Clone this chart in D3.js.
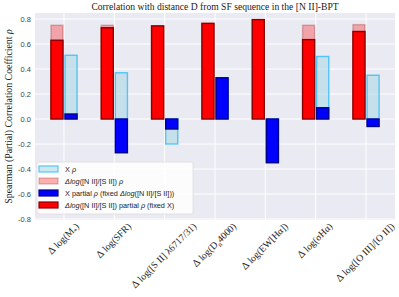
<!DOCTYPE html>
<html>
<head>
<meta charset="utf-8">
<script src="https://cdn.jsdelivr.net/npm/d3@7"></script>
<style>
  body { margin: 0; background: #fff; }
  svg { display: block; }
</style>
</head>
<body>
<div id="chart"></div>
<script>
// values
const categories = [
  ['M', '*'],
  ['SFR', null],
  ['[S II] λ6717/31', null],
  ['D', 'n', '4000'],
  ['EW[Hα]', null],
  ['σHα', null],
  ['[O III]/[O II]', null]
];
const xRho = [0.51, 0.37, -0.2, 0.32, -0.34, 0.5, 0.35];
const nsRho = [0.75, 0.75, 0.745, 0.765, 0.795, 0.75, 0.755];
const xPartial = [0.04, -0.27, -0.08, 0.33, -0.35, 0.09, -0.06];
const nsPartial = [0.63, 0.73, 0.745, 0.765, 0.795, 0.635, 0.7];
const yTicks = [-0.8, -0.6, -0.4, -0.2, 0, 0.2, 0.4, 0.6, 0.8];

const width = 399;
const height = 297;
const margin = { top: 13, right: 4, bottom: 77, left: 35 };

const svg = d3.select('#chart')
  .append('svg')
  .attr('width', width)
  .attr('height', height);

const x = d3.scaleLinear()
  .domain([-0.576, categories.length - 1 + 0.576])
  .range([margin.left, width - margin.right]);

const y = d3.scaleLinear()
  .domain([-0.808, 0.848])
  .range([height - margin.bottom, margin.top]);

svg.append('rect')
  .attr('x', margin.left)
  .attr('y', margin.top)
  .attr('width', width - margin.left - margin.right)
  .attr('height', height - margin.top - margin.bottom)
  .attr('fill', '#eaeaf2');

// grid
svg.append('g')
  .selectAll('line.h')
  .data(yTicks)
  .join('line')
  .attr('x1', margin.left)
  .attr('x2', width - margin.right)
  .attr('y1', d => y(d))
  .attr('y2', d => y(d))
  .attr('stroke', '#fff')
  .attr('stroke-width', 1);

svg.append('g')
  .selectAll('line.v')
  .data(d3.range(categories.length))
  .join('line')
  .attr('x1', d => x(d))
  .attr('x2', d => x(d))
  .attr('y1', margin.top)
  .attr('y2', height - margin.bottom)
  .attr('stroke', '#fff')
  .attr('stroke-width', 1);

// y axis labels
const yAxis = svg.append('g')
  .attr('transform', `translate(${margin.left},0)`)
  .call(d3.axisLeft(y).tickValues(yTicks).tickSize(0).tickPadding(4)
    .tickFormat(d => d3.format('.1f')(d).replace('−', '-')));
yAxis.select('.domain').remove();
yAxis.selectAll('text')
  .attr('font-family', 'Liberation Sans, Arial, sans-serif')
  .attr('font-size', 7.5)
  .attr('fill', '#444');

const barW = 0.24;
const off = 0.14;

function bars(data, side, fill, stroke, sw) {
  svg.append('g')
    .selectAll('rect')
    .data(data)
    .join('rect')
    .attr('x', (d, i) => x(i + side * off - barW / 2))
    .attr('width', x(barW) - x(0))
    .attr('y', d => y(Math.max(0, d)))
    .attr('height', d => Math.abs(y(d) - y(0)))
    .attr('fill', fill)
    .attr('stroke', stroke)
    .attr('stroke-width', sw);
}

bars(xRho, 1, 'rgba(173,216,230,0.6)', 'rgba(40,185,245,0.75)', 1.4);
bars(nsRho, -1, 'rgba(255,0,0,0.3)', 'rgba(139,0,0,0.25)', 1.4);
bars(xPartial, 1, '#0000ff', '#00008b', 1.4);
bars(nsPartial, -1, '#ff0000', '#8b0000', 1.4);

// x labels, rotated 45 degrees, centred below each tick
const xLabels = svg.append('g');
categories.forEach((c, i) => {
  const t = xLabels.append('text')
    .attr('font-family', 'Liberation Serif, Times New Roman, serif')
    .attr('font-size', 9.7)
    .attr('fill', '#222')
    .attr('text-anchor', 'middle');
  t.append('tspan').attr('font-size', 10.5).text('Δ ');
  t.append('tspan').text('log(');
  t.append('tspan').text(c[0]);
  if (c[1]) {
    t.append('tspan').attr('font-size', 6.8).attr('dy', 2.5).text(c[1]);
    t.append('tspan').attr('dy', -2.5).text(c[2] ? c[2] + ')' : ')');
  } else {
    t.append('tspan').text(')');
  }
  const w = t.node().getComputedTextLength();
  const h = 7;
  const cx = x(i);
  const cy = 223 + (w + h) / (2 * Math.SQRT2);
  t.attr('transform', `translate(${cx + 1.5},${cy + 1.5}) rotate(-45)`);
});

// title
svg.append('text')
  .attr('x', (margin.left + width - margin.right) / 2)
  .attr('y', 10)
  .attr('text-anchor', 'middle')
  .attr('font-family', 'Liberation Serif, Times New Roman, serif')
  .attr('font-size', 9.6)
  .attr('fill', '#222')
  .text('Correlation with distance D from SF sequence in the [N II]-BPT');

// y label
const yl = svg.append('text')
  .attr('transform', `translate(12,${(margin.top + height - margin.bottom) / 2}) rotate(-90)`)
  .attr('text-anchor', 'middle')
  .attr('font-family', 'Liberation Serif, Times New Roman, serif')
  .attr('font-size', 9.8)
  .attr('fill', '#222');
yl.append('tspan').text('Spearman (Partial) Correlation Coefficient ');
yl.append('tspan').attr('font-style', 'italic').text('ρ');

// legend
const legend = svg.append('g').attr('transform', 'translate(37,162)');
legend.append('rect')
  .attr('width', 156)
  .attr('height', 52)
  .attr('rx', 2)
  .attr('fill', 'rgba(255,255,255,0.85)')
  .attr('stroke', '#ddd')
  .attr('stroke-width', 0.8);

const legendItems = [
  { fill: 'rgba(173,216,230,0.6)', stroke: 'rgba(40,185,245,0.75)',
    parts: [['X ', false], ['ρ', true]] },
  { fill: 'rgba(255,0,0,0.3)', stroke: 'rgba(139,0,0,0.25)',
    parts: [['Δlog', true], ['([N II]/[S II]) ', false], ['ρ', true]] },
  { fill: '#0000ff', stroke: '#00008b',
    parts: [['X partial ', false], ['ρ', true], [' (fixed ', false], ['Δlog', true], ['([N II]/[S II]))', false]] },
  { fill: '#ff0000', stroke: '#8b0000',
    parts: [['Δlog', true], ['([N II]/[S II]) partial ', false], ['ρ', true], [' (fixed X)', false]] }
];

legendItems.forEach((item, i) => {
  const row = legend.append('g').attr('transform', `translate(0,${7 + i * 12})`);
  row.append('rect')
    .attr('x', 2)
    .attr('y', -3)
    .attr('width', 19)
    .attr('height', 6)
    .attr('fill', item.fill)
    .attr('stroke', item.stroke)
    .attr('stroke-width', 1.2);
  const t = row.append('text')
    .attr('x', 28)
    .attr('y', 2.7)
    .attr('font-family', 'Liberation Sans, Arial, sans-serif')
    .attr('font-size', 7.3)
    .attr('fill', '#222');
  item.parts.forEach(p => {
    t.append('tspan')
      .attr('font-style', p[1] ? 'italic' : 'normal')
      .text(p[0]);
  });
});
</script>
</body>
</html>
